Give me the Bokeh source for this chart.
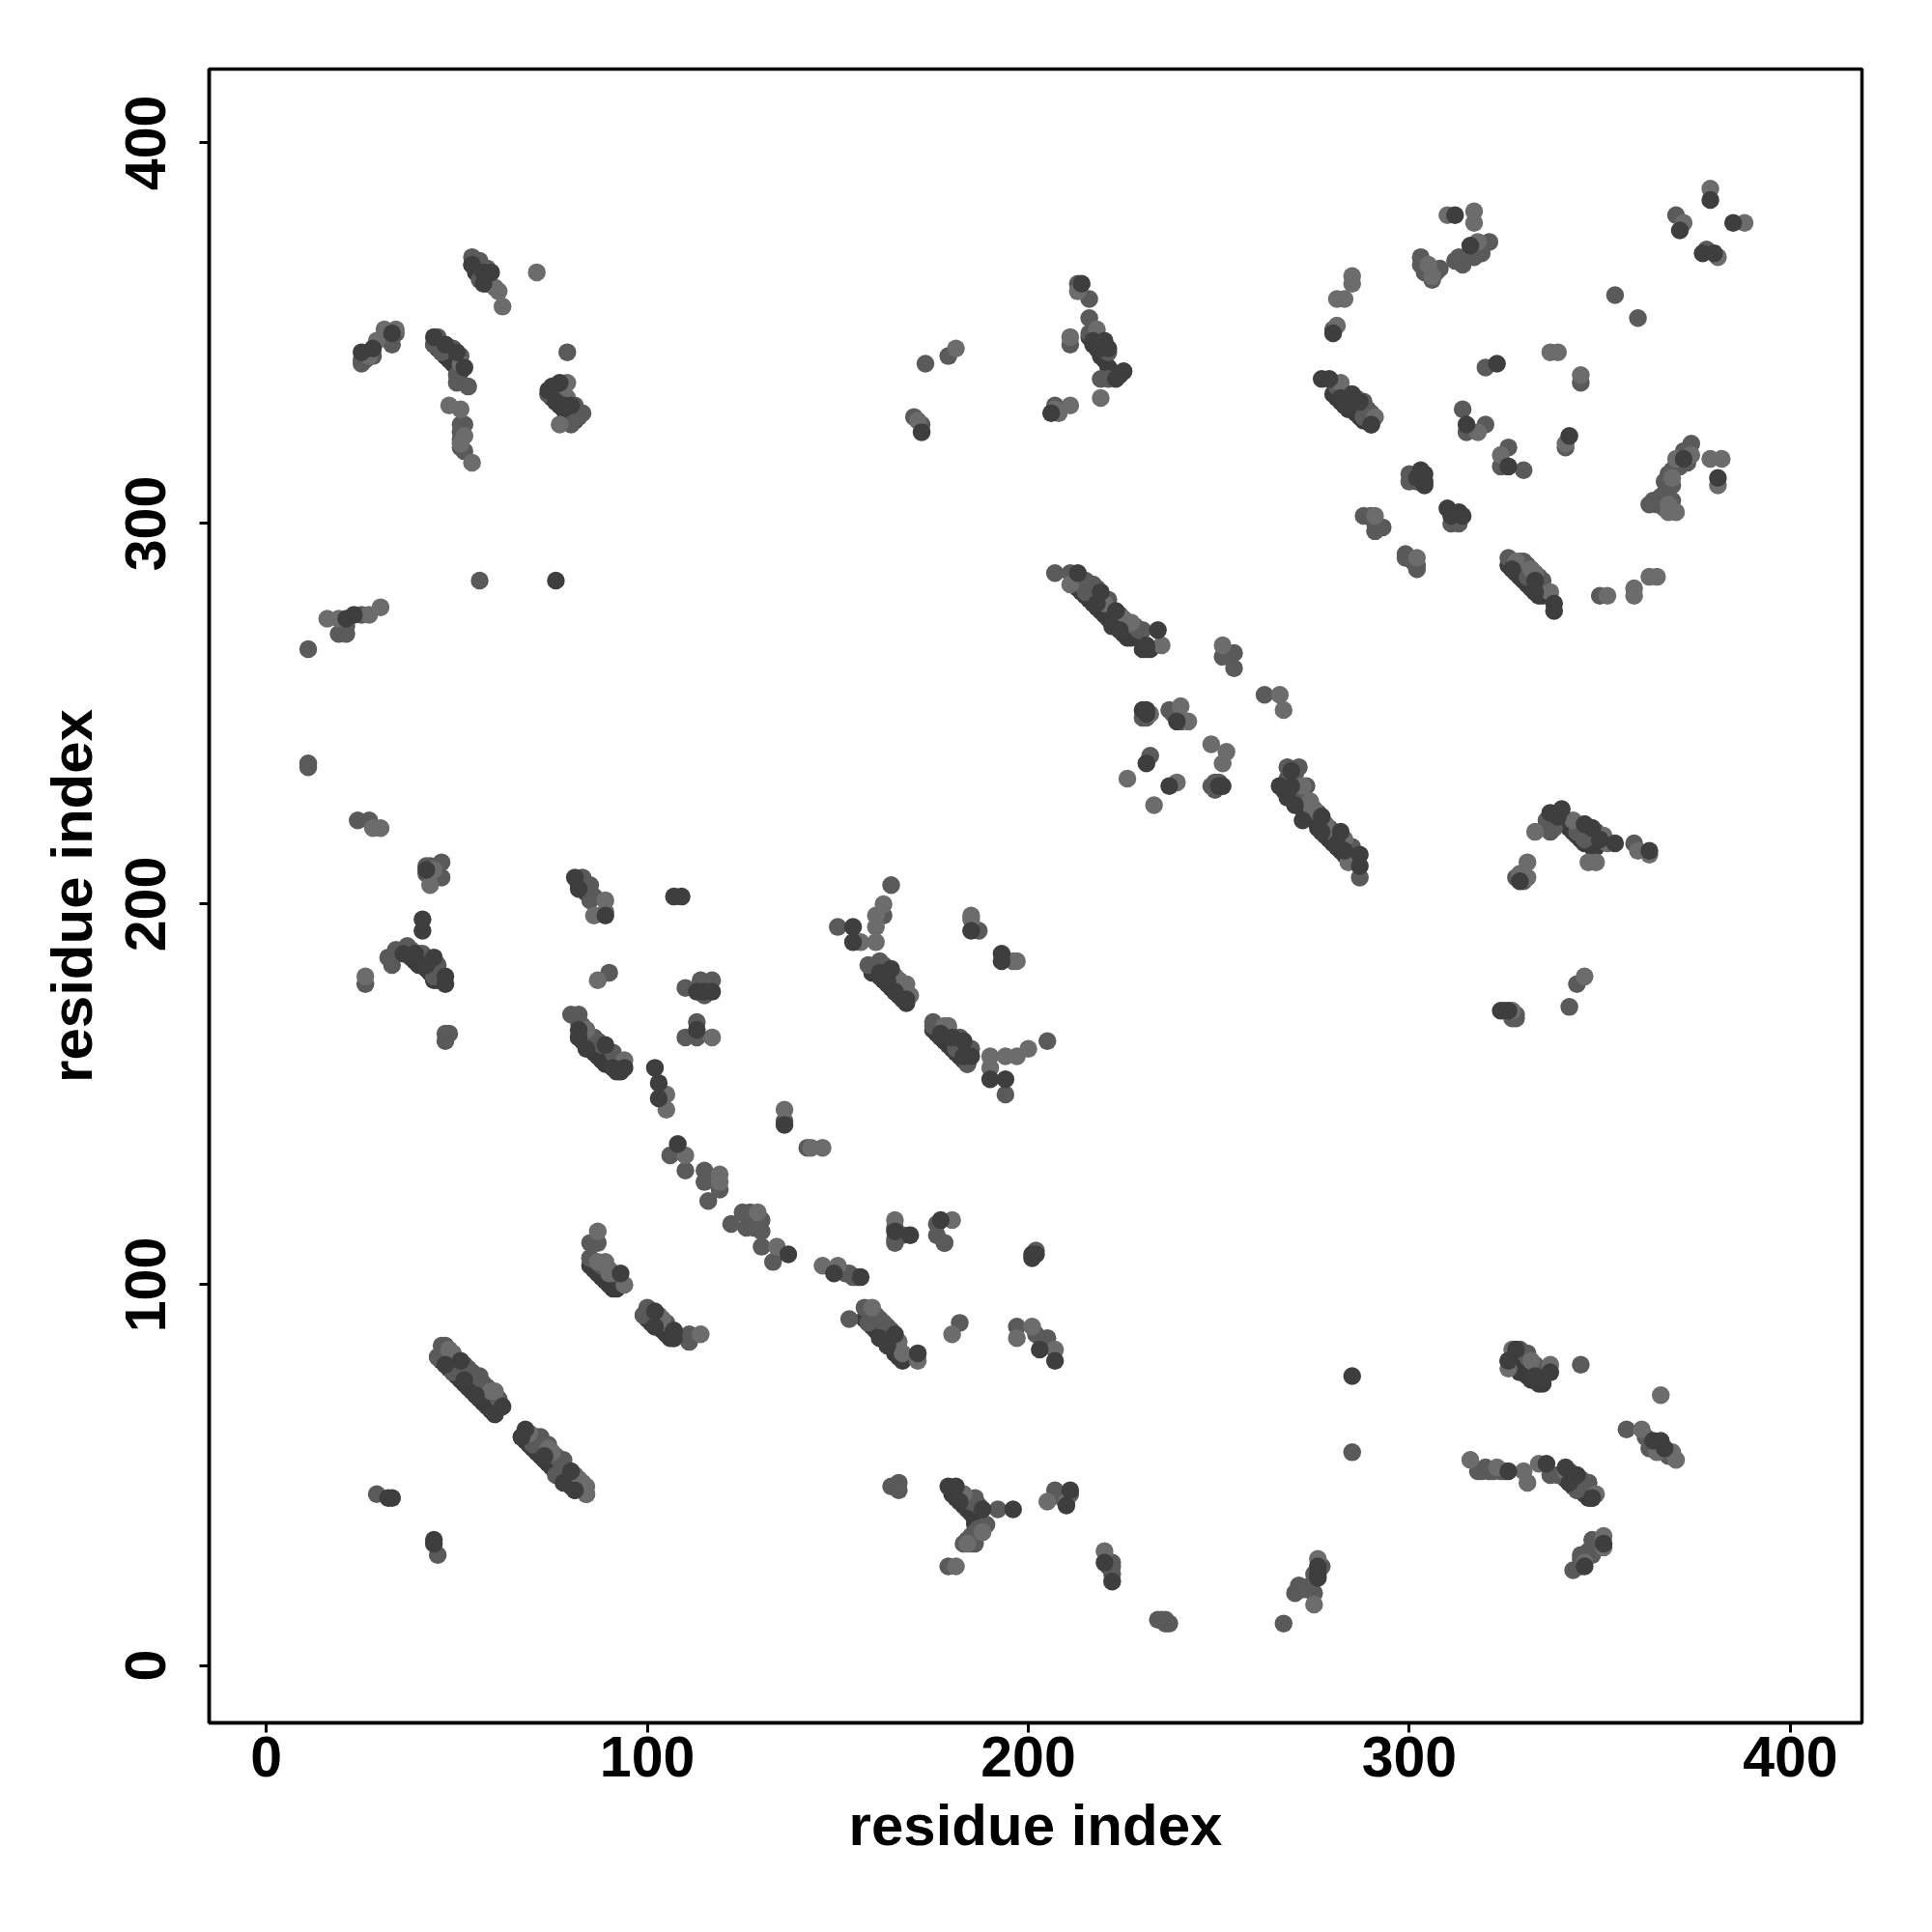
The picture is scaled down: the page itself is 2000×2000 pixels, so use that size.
from bokeh.embed import file_html
from bokeh.resources import INLINE
from bokeh.plotting import figure
from bokeh.models import FixedTicker, Range1d

# contacts (residue i, residue j), grouped by grey level

# darkest contacts, mostly hidden behind the others in each strand pair
deep_contacts = [
    (45,81),(46,80),(47,79),(48,78),(49,77),(50,76),(51,75),(52,74),(53,73),(54,72),(55,71),(56,70),(57,69),(58,68),(59,67),(60,66),
    (67,60),(68,59),(69,58),(70,57),(71,56),(72,55),(73,54),(74,53),(75,52),(76,51),(77,50),(78,49),(79,48),(80,47),(81,46),(84,45),
    (85,105),(86,104),(87,103),(88,102),(89,101),(90,100),(91,99),(92,99),
    (99,92),(100,91),(101,90),(102,89),(103,89),(104,88),(105,87),(106,86),(107,86),
    (82,165),(83,164),(84,163),(85,162),(86,161),(87,160),(88,159),(89,158),(90,158),(91,157),(92,156),
    (159,182),(160,182),(161,181),(162,180),(163,179),(164,178),(165,177),(166,176),(167,175),(168,174),
    (175,167),(176,166),(177,165),(178,164),(179,163),(180,162),(181,161),(182,160),(183,159),(184,158),
    (213,283),(214,282),(215,281),(216,280),(217,279),(218,278),(219,277),(220,276),(221,275),(222,274),(223,273),(224,272),(225,271),(226,270),(227,270),(230,267),(232,267),
    (266,231),(267,230),(268,229),(269,228),(270,227),(271,226),(272,225),(273,224),(274,223),(275,222),(276,220),(277,219),(278,218),(279,217),(280,216),(281,215),(282,214),(283,213),(284,212),
    (280,334),(281,333),(282,332),(283,331),(284,330),(285,330),(286,329),(287,328),(288,327),(289,327),(290,326),
    (326,289),(327,288),(328,287),(329,286),(330,285),(331,284),(332,283),(333,282),(334,281),(335,281),
    (342,220),(343,219),(344,218),(345,217),(346,216),(347,216),(348,215),(349,215),
    (326,80),(327,79),(328,78),(329,77),(330,77),(331,76),(332,75),(333,75),(334,74),(335,74),
    (340,50),(341,49),(342,48),(343,47),(344,46),(345,46),(346,45),(347,44),(348,44),
    (157,91),(158,90),(159,89),(160,88),(161,87),(162,86),(163,85),(164,84),(165,82),(166,81),(167,80),
    (44,347),(45,346),(46,345),(47,344),(48,343),(49,342),(50,341),(51,340),
    (54,368),(55,366),(56,365),(57,364),(58,363),
    (74,334),(75,333),(76,332),(77,331),(78,330),(79,329),(80,328),(81,327),
    (216,349),(217,347),(218,346),(219,344),(220,343),(221,341),(222,339),
    (180,45),(181,44),(182,43),(183,42),(184,41),(185,40),(186,38),(186,37),
    (38,186),(39,185),(40,184),(41,184),(42,183),(43,182),(44,180),(45,180),
    (82,205),(83,204),(84,203),(85,202),
]

medium_contacts = [
    (54,370),(56,369),(56,364),(33,349),(25,343),(45,349),(44,347),(46,345),(50,339),(50,337),(53,336),(51,341),(51,326),(51,320),
    (79,345),(74,334),(76,332),(83,329),(80,326),(82,328),(56,285),(11,237),(11,267),(21,273),(19,271),(21,271),(25,276),
    (173,342),(179,344),(170,328),(172,326),(213,363),(216,359),(216,354),(216,350),(211,347),(219,338),(207,331),(221,338),(207,287),(211,287),(214,284),(216,284),(217,284),(215,282),(229,272),(254,266),(254,262),(251,265),
    (378,372),(370,381),(354,360),(360,354),(303,370),(303,368),(308,367),(307,366),(312,369),(314,368),(317,370),(321,374),(319,371),(280,351),(320,341),(345,337),(283,334),(288,332),(289,330),(288,328),(314,330),(315,324),(320,326),(326,320),(324,315),(330,314),(341,320),(374,321),(368,313),(367,308),(364,306),(365,305),(288,302),(293,299),(291,298),(299,292),(302,288),(326,291),(330,290),(331,286),(350,281),(300,313),(300,311),(311,300),(313,300),
    (11,236),(24,222),(27,222),(42,210),(46,211),(46,207),(32,186),(33,184),(34,188),(37,189),(41,187),(45,184),(44,181),(26,179),(47,166),(47,164),(48,166),(83,207),(85,205),(85,201),(90,182),
    (80,171),(82,171),(87,164),(84,167),(91,161),(106,134),(110,130),(115,130),(115,127),(119,125),(116,122),(110,178),(114,180),(117,180),(115,176),(113,169),(110,165),(113,165),
    (230,249),(237,251),(262,255),(249,232),(249,230),(232,239),(239,250),(164,205),(162,197),(150,194),(187,193),(158,184),(161,185),(175,169),(175,168),(177,166),(181,162),(185,162),(184,158),(205,164),(194,150),(136,143),(142,136),(176,116),(178,111),
    (85,111),(87,111),(85,107),(100,94),(99,92),(111,87),(111,85),(46,84),(47,84),(45,81),(53,78),(56,76),(57,74),(49,77),(72,60),(70,58),(74,58),(78,54),(76,50),(29,45),(45,29),
    (47,83),(52,79),(54,77),(55,76),(58,73),(61,70),(71,60),(76,55),(77,54),(78,53),(85,107),(88,105),(91,103),(101,93),(103,92),(105,90),
    (82,169),(83,168),(86,165),(88,163),(92,159),(162,184),(163,183),(166,180),(176,168),(179,167),(182,165),(183,164),
    (213,286),(215,285),(218,283),(221,280),(224,276),(228,273),(230,272),(268,236),(270,234),(273,231),(276,224),(279,220),(280,219),(285,215),(268,233),(270,231),(272,228),
    (281,336),(284,334),(286,333),(288,331),(290,329),(329,290),(331,289),(334,286),(335,285),(344,221),(349,219),(329,83),(331,82),(333,79),(335,77),(342,51),(345,49),(347,48),(346,221),
    (157,94),(160,92),(162,90),(164,88),(49,346),(47,347),(51,344),(58,367),(77,336),(78,335),(81,331),(219,348),(221,345),(183,45),(185,43),(187,42),(36,188),(38,188),(40,187),(42,186),(43,185),(86,202),
    (130,117),(130,110),(133,106),(165,111),(176,113),(178,111),(202,109),(152,103),(153,91),(161,91),(158,90),(163,89),(182,90),(197,89),(202,87),(205,86),
    (164,47),(166,48),(166,46),(186,44),(192,41),(189,37),(186,35),(186,32),(179,26),(207,46),(222,27),(222,24),(235,12),(237,11),(267,11),(271,21),(270,19),(275,19),(274,21),
    (331,81),(345,79),(320,52),(324,51),(337,50),(339,50),(347,48),(344,46),(348,33),(348,29),(345,29),(343,25),(345,26),(357,62),(362,60),(363,57),
    (271,236),(287,207),(337,219),(336,221),(344,219),(346,217),(359,216),(344,179),(342,173),(328,170),(285,56),
    (122,116),(125,119),(127,119),(126,115),(128,115),(130,114),
    (26,343),(27,345),(25,342),(28,344),(33,347),(32,349),(34,350),
    (313,370),(315,370),(316,371),(318,372),(319,373),(304,366),(306,364),(301,312),(302,311),
    (371,317),(373,316),(372,319),(369,314),(367,311),(369,310),(371,315),
    (363,305),(366,307),(367,304),(369,306),(290,302),(292,299),(291,300),(299,291),(300,291),(302,289),(301,290),
    (336,222),(338,220),(328,207),(329,207),(330,206),(325,172),(327,171),(328,171),(327,170),
    (51,324),(52,326),(51,322),(52,319),(42,208),(43,210),(44,208),
    (221,26),(222,26),(272,20),(273,20),(275,24),(277,26),
    (345,28),(347,30),(350,32),(349,31),(365,58),(368,55),(318,51),(319,51),(321,51),(322,51),(325,51),
    (187,36),(185,34),(186,33),(187,35),(183,32),(184,33),(185,32),(209,44),(211,45),
    (165,115),(166,113),(167,113),(165,112),(153,103),(154,102),(155,102),
    (234,12),(236,12),(236,11),(248,231),(250,232),(238,250),(240,248),(231,249),
]

light_contacts = [
    (71,366),(61,361),(60,362),(62,357),(34,351),(31,351),(29,348),(27,344),(51,342),(48,331),(51,330),(52,323),(51,321),(54,316),(79,337),(79,333),(77,326),(16,275),(19,275),(27,276),(30,278),
    (181,346),(171,327),(213,361),(218,351),(211,349),(219,333),(208,329),(211,331),(207,330),(211,284),(220,279),(227,274),(225,275),(235,268),(251,268),
    (379,388),(372,379),(381,370),(388,379),(310,381),(317,382),(317,379),(306,365),(305,368),(318,374),(285,365),(285,363),(281,359),(283,359),(281,352),(337,345),(339,345),(345,339),(282,337),(291,328),(318,324),(324,318),(341,321),(374,318),(370,317),(369,312),(379,317),(382,317),(381,310),(368,305),(370,303),(368,303),(291,302),(302,291),(328,290),(332,288),(337,282),(352,281),(359,283),(359,281),(363,286),(365,286),
    (28,220),(30,220),(43,205),(44,209),(89,201),(86,197),(89,198),(87,180),(84,167),(94,159),(26,181),(110,134),(105,150),(105,146),
    (119,129),(119,127),(117,165),
    (232,250),(240,252),(242,248),(266,255),(267,251),(248,242),(252,240),(251,237),(226,233),(233,226),(239,232),(162,200),(160,197),(160,194),(156,190),(160,190),(185,197),(185,196),(196,185),(197,185),(165,181),(168,179),(169,176),(179,168),(190,160),(190,157),(194,160),(197,160),(200,162),(136,146),(143,136),(146,136),(129,119),(165,117),(180,117),
    (87,114),(89,106),(90,103),(94,100),(104,91),(114,87),(49,82),(60,72),(69,61),(74,57),(75,56),(82,49),(84,47),(84,45),
    (48,83),(59,72),(81,50),(83,48),(87,106),(90,104),
    (134,110),(146,105),(150,105),(159,94),(166,85),(167,82),(171,80),(180,87),(201,89),(197,86),(207,83),(205,43),(210,43),(183,45),(188,35),(184,32),(181,26),(220,30),(276,28),(275,16),
    (326,78),(327,83),(332,80),(337,79),(316,54),(323,52),(330,51),(331,48),(334,53),(341,51),(349,45),(351,34),(351,31),(346,27),(366,71),(361,62),(365,56),(369,56),(370,54),
    (272,231),(274,227),(275,225),(278,221),(284,211),(283,217),(333,219),(343,222),(351,218),(352,216),(347,211),(349,211),(360,214),(363,213),(331,211),(329,208),(331,207),(346,181),(327,172),
    (166,180),(167,179),(178,168),(274,226),(281,218),(333,287),(348,220),
]

dark_contacts = [
    (54,368),(57,366),(59,366),(57,363),(33,350),(28,346),(25,345),(44,349),(47,347),(50,345),(52,341),(77,337),(74,335),(75,336),(80,331),(78,331),(76,332),(23,276),(21,275),
    (172,324),(214,363),(220,348),(221,346),(217,348),(219,346),(225,340),(224,339),(223,338),(206,329),(213,287),(219,282),(218,279),(223,277),(222,273),(224,272),(234,272),(231,268),(231,267),
    (379,385),(371,377),(385,379),(377,371),(380,371),(312,381),(316,373),(280,350),(323,342),(277,338),(279,338),(282,333),(285,334),(287,332),(283,331),(290,326),(315,326),(326,315),(342,323),(372,317),(381,312),(303,314),(304,311),(304,310),(302,312),(310,304),(313,303),(314,302),(311,302),(333,285),(333,282),(327,288),(338,279),(338,277),
    (42,209),(41,196),(41,193),(36,187),(39,187),(44,186),(42,184),(47,181),(47,179),(81,207),(82,204),(89,197),(82,167),(82,165),(89,163),(84,162),(94,157),(93,156),(91,157),(102,157),(103,153),(103,149),(108,137),(113,177),(115,177),(117,177),(113,167),(107,202),(109,202),
    (231,251),(239,248),(231,237),(237,231),(251,231),(154,194),(154,190),(161,182),(164,183),(163,180),(165,177),(168,175),(177,166),(180,165),(183,164),(183,160),(185,160),(190,154),(194,154),(185,193),(193,187),(193,185),(136,142),(177,117),
    (137,108),(165,114),(169,113),(201,107),(149,103),(156,102),(165,87),(163,84),(161,86),(171,82),(207,80),(203,83),(179,47),(181,47),(182,43),(188,41),(196,41),(211,46),(210,42),(220,27),(222,22),(276,23),(276,24),
    (93,103),(102,93),(102,89),(107,88),(107,86),(51,80),(47,79),(52,75),(55,71),(62,68),(60,66),(68,62),(67,60),(73,55),(80,51),(81,46),(78,48),(32,44),(33,44),(44,33),(44,32),
    (285,76),(76,285),(328,83),(326,80),(335,75),(333,76),(337,77),(326,51),(336,53),(341,52),(344,50),(342,48),(348,44),(351,32),(346,26),(364,59),(366,59),(367,57),
    (269,235),(269,231),(270,226),(272,222),(277,223),(277,219),(281,216),(283,214),(287,213),(337,224),(340,225),(339,223),(346,221),(348,220),(350,217),(354,216),(329,206),(266,231),(268,228),(282,219),(287,210),(363,214),(324,172),(326,172),
    (303,313),(304,313),(202,108),(201,108),(250,231),(230,251),(231,250),(276,26),
]

ticks = [0, 100, 200, 300, 400]
axis_title = "residue index"

p = figure(width=1990, height=1990, output_backend="svg", toolbar_location=None,
           x_range=Range1d(-15.0, 418.8), y_range=Range1d(-15.1, 419.4),
           min_border_left=216, min_border_right=63, min_border_top=71, min_border_bottom=207)
p.grid.visible = False
p.outline_line_color = "black"
p.outline_line_width = 3.5

groups = [(deep_contacts, "#3c3c3c"), (medium_contacts, "#5a5a5a"),
          (light_contacts, "#6c6c6c"), (dark_contacts, "#3e3e3e")]
for contacts, colour in groups:
    i, j = zip(*contacts)
    p.scatter(list(i), list(j), size=18.5, fill_color=colour, line_color=None)

for ax in (p.xaxis[0], p.yaxis[0]):
    ax.ticker = FixedTicker(ticks=ticks)
    ax.axis_label = axis_title
    ax.axis_line_color = "black"
    ax.axis_line_width = 3.5
    ax.major_tick_line_color = "black"
    ax.major_tick_line_width = 3
    ax.major_tick_in = 0
    ax.major_tick_out = 10
    ax.minor_tick_line_color = None
    ax.major_label_text_font = "Liberation Sans"
    ax.major_label_text_font_style = "bold"
    ax.major_label_text_font_size = "59px"
    ax.major_label_text_color = "black"
    ax.axis_label_text_font = "Liberation Sans"
    ax.axis_label_text_font_style = "bold"
    ax.axis_label_text_font_size = "60px"
    ax.axis_label_text_color = "black"

p.xaxis[0].major_label_standoff = 4
p.xaxis[0].axis_label_standoff = 14
p.yaxis[0].major_label_orientation = "vertical"
p.yaxis[0].major_label_standoff = 35
p.yaxis[0].axis_label_standoff = 20

open("out.html", "w").write(file_html(p, INLINE))
